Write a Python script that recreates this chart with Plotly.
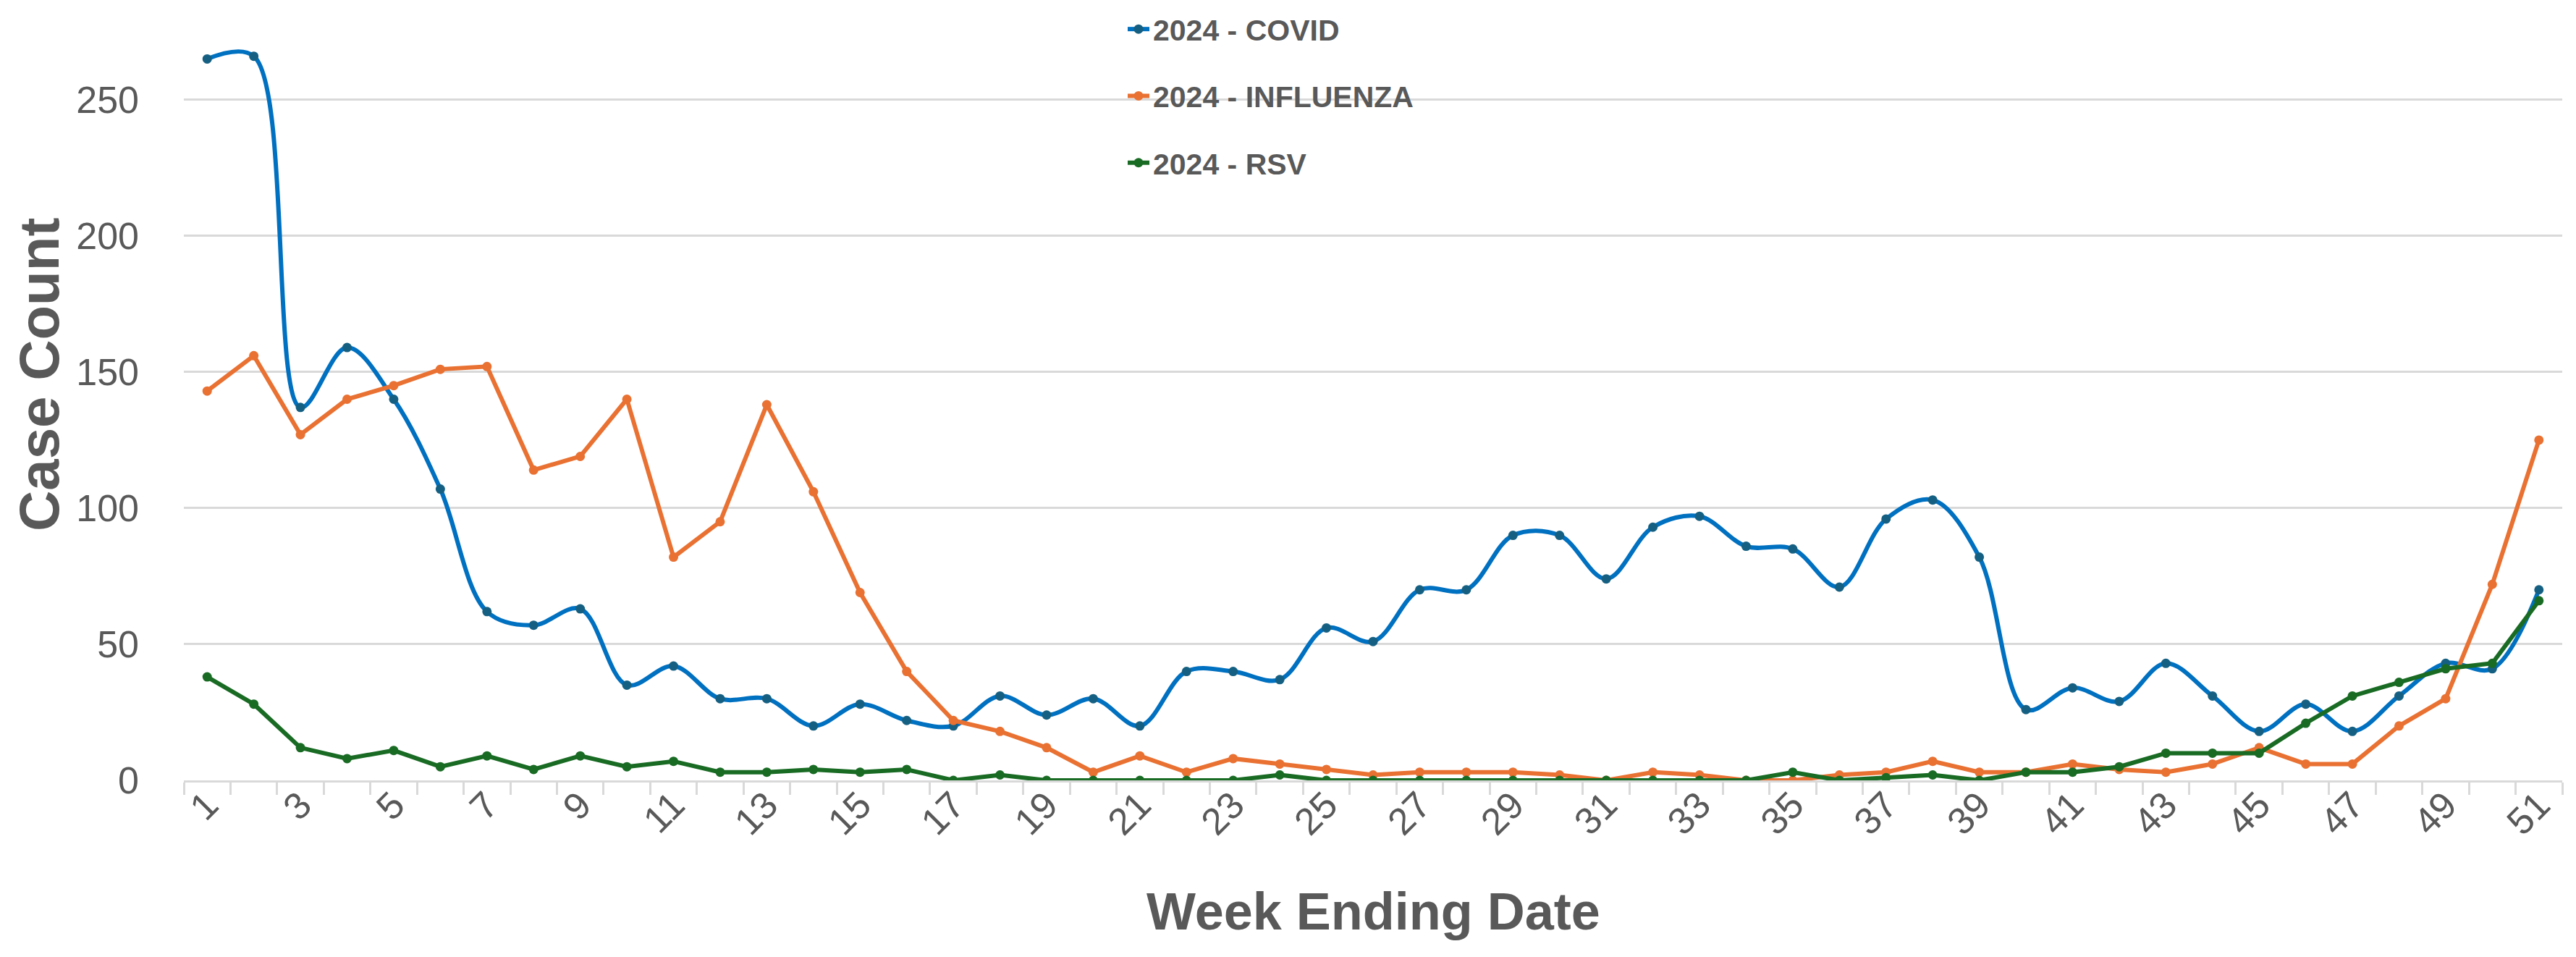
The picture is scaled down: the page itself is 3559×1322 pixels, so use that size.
import plotly.graph_objects as go

weeks = list(range(1, 52))
covid = [265, 266, 137, 159, 140, 107, 62, 57, 63, 35,
         42, 30, 30, 20, 28, 22, 20, 31, 24, 30,
         20, 40, 40, 37, 56, 51, 70, 70, 90, 90,
         74, 93, 97, 86, 85, 71, 96, 103, 82, 26,
         34, 29, 43, 31, 18, 28, 18, 31, 43, 41, 70]
influenza = [143, 156, 127, 140, 145, 151, 152, 114, 119, 140,
             82, 95, 138, 106, 69, 40, 22, 18, 12, 3,
             9, 3, 8, 6, 4, 2, 3, 3, 3, 2,
             0, 3, 2, 0, 0, 2, 3, 7, 3, 3,
             6, 4, 3, 6, 12, 6, 6, 20, 30, 72, 125]
rsv = [38, 28, 12, 8, 11, 5, 9, 4, 9, 5,
       7, 3, 3, 4, 3, 4, 0, 2, 0, 0,
       0, 0, 0, 2, 0, 0, 0, 0, 0, 0,
       0, 0, 0, 0, 3, 0, 1, 2, 0, 3,
       3, 5, 10, 10, 10, 21, 31, 36, 41, 43, 66]
series_names = ["2024 - COVID", "2024 - INFLUENZA", "2024 - RSV"]
tick_weeks = [w for w in weeks if w % 2 == 1]
tick_labels = [str(w) for w in tick_weeks]

W, H = 3559, 1322
ML, MR, MT, MB = 246, 27, 17, 252
YMAX = 280
TXT = "#595959"
GRID = "#D9D9D9"
FONT = "Liberation Sans, Arial, sans-serif"

fig = go.Figure()
fig.add_trace(go.Scatter(
    x=weeks, y=covid, name=series_names[0], mode="lines+markers",
    line=dict(color="#0070C0", width=6, shape="spline", smoothing=1.0),
    marker=dict(color="#156082", size=13, symbol="circle"),
    legendgroup="a"))
fig.add_trace(go.Scatter(
    x=weeks, y=influenza, name=series_names[1], mode="lines+markers",
    line=dict(color="#E97132", width=6),
    marker=dict(color="#E97132", size=13, symbol="circle"),
    legendgroup="b"))
fig.add_trace(go.Scatter(
    x=weeks, y=rsv, name=series_names[2], mode="lines+markers",
    line=dict(color="#196B24", width=6),
    marker=dict(color="#196B24", size=13, symbol="circle"),
    legendgroup="c"))

plot_w = W - ML - MR
plot_h = H - MT - MB

fig.update_layout(
    width=W, height=H,
    margin=dict(l=ML, r=MR, t=MT, b=MB, autoexpand=False),
    paper_bgcolor="white", plot_bgcolor="white",
    font=dict(family=FONT, color=TXT),
    showlegend=True,
    legend=dict(
        x=(1545 - ML) / plot_w, y=1.0 + 18 / plot_h, xanchor="left", yanchor="top",
        bgcolor="rgba(0,0,0,0)",
        font=dict(family=FONT, size=41, color=TXT, weight="bold"),
        tracegroupgap=36, itemwidth=30,
    ),
    xaxis=dict(
        range=[0.5, 51.5],
        tickmode="array", tickvals=tick_weeks, ticktext=tick_labels,
        tickangle=-45, ticks="", showgrid=False, zeroline=False,
        showline=True, linecolor=GRID, linewidth=2.5,
        tickfont=dict(family=FONT, size=52, color=TXT),
        minor=dict(ticks="outside", tickvals=[i + 0.5 for i in range(0, 52)],
                   ticklen=17, tickcolor=GRID, tickwidth=2.5, showgrid=False),
        ticklabelstandoff=-20,
    ),
    yaxis=dict(
        range=[0, YMAX], tickmode="linear", tick0=0, dtick=50,
        showgrid=True, gridcolor=GRID, gridwidth=2.5, zeroline=False,
        showline=False, ticks="",
        tickfont=dict(family=FONT, size=52, color=TXT),
        ticklabelstandoff=61,
    ),
    annotations=[
        dict(text="<b>Case Count</b>", textangle=-90, showarrow=False,
             xref="paper", yref="paper",
             x=(46 - ML) / plot_w, y=(H - MB - 510) / plot_h,
             xanchor="center", yanchor="middle",
             font=dict(family=FONT, size=78, color=TXT)),
        dict(text="<b>Week Ending Date</b>", showarrow=False,
             xref="paper", yref="paper",
             x=0.5, y=(H - MB - 1251) / plot_h,
             xanchor="center", yanchor="middle",
             font=dict(family=FONT, size=72, color=TXT)),
    ],
)

fig.write_html("out.html")
